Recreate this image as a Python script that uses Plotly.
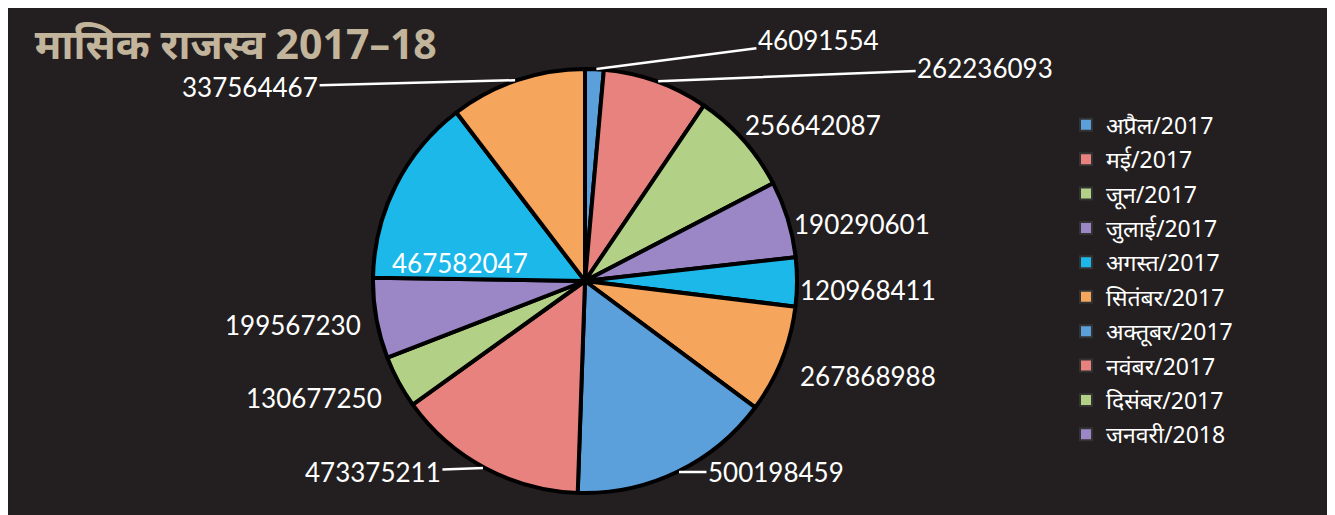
import math
import plotly.graph_objects as go

months = ["अप्रैल/2017", "मई/2017", "जून/2017", "जुलाई/2017", "अगस्त/2017", "सितंबर/2017",
          "अक्तूबर/2017", "नवंबर/2017", "दिसंबर/2017", "जनवरी/2018", "फरवरी/2018", "मार्च/2018"]
revenue = [46091554, 262236093, 256642087, 190290601, 120968411, 267868988,
           500198459, 473375211, 130677250, 199567230, 467582047, 337564467]
palette = ["#5b9fdb", "#e8827f", "#b3d186", "#9c87c6", "#1cb8ea", "#f5a55c"]
colors = [palette[i % 6] for i in range(len(revenue))]
legend_count = 10

# label placement (pixel offsets of each value label from its slice's rim point)
label_dx = [224, 329, 70, 74, 71, 86, 99, -112, -85, -83, 64, -267]
label_dy = [-29, -13, -15, 5, 8, 16, 0, 4, 16, 7, 77, 7]
label_line = [True, True, False, False, False, False, True, True, False, False, False, True]

W, H = 1335, 515
cx, cy, r = 577, 273, 212

fig = go.Figure()
fig.add_trace(go.Pie(
    labels=months, values=revenue, sort=False, direction="clockwise", rotation=0,
    marker=dict(colors=colors, line=dict(color="#000000", width=4)),
    textinfo="none",
    domain=dict(x=[(cx - r) / W, (cx + r) / W], y=[(H - cy - r) / H, (H - cy + r) / H]),
    showlegend=False, hoverinfo="label+value",
))
for i in range(legend_count):
    fig.add_trace(go.Scatter(
        x=[None], y=[None], mode="markers", name=months[i], legendgroup=str(i),
        marker=dict(symbol="square", size=17, color=colors[i],
                    line=dict(color="#333333", width=1)),
    ))

total = sum(revenue)
cum = 0.0
annotations = []
for i, v in enumerate(revenue):
    mid = (cum + v / 2) / total * 2 * math.pi
    cum += v
    px = cx + r * math.sin(mid)
    py = cy - r * math.cos(mid)
    font = dict(color="white", size=26, family="Lato, Open Sans, sans-serif")
    if label_line[i]:
        annotations.append(dict(
            x=px / W, y=1 - py / H, xref="paper", yref="paper", text=str(v),
            showarrow=True, arrowhead=0, arrowwidth=2.5, arrowcolor="white",
            ax=label_dx[i], ay=label_dy[i], font=font, standoff=2))
    else:
        annotations.append(dict(
            x=px / W, y=1 - py / H, xref="paper", yref="paper", text=str(v),
            xanchor="center", yanchor="middle",
            showarrow=False, xshift=label_dx[i], yshift=-label_dy[i], font=font))

fig.update_layout(
    width=W, height=H, paper_bgcolor="#231f20", plot_bgcolor="#231f20",
    margin=dict(l=0, r=0, t=0, b=0),
    xaxis=dict(visible=False), yaxis=dict(visible=False),
    annotations=annotations,
    title=dict(text="<b>मासिक राजस्व 2017–18</b>", x=0.02, xanchor="left", y=0.928, yanchor="middle",
               font=dict(size=41, color="#c2b59b", family="Noto Sans, sans-serif")),
    legend=dict(x=0.7925, xanchor="left", y=0.815, yanchor="top", bgcolor="rgba(0,0,0,0)",
                font=dict(color="white", size=23, family="Noto Sans, sans-serif"),
                tracegroupgap=1.5, itemsizing="constant"),
)
fig.write_html("out.html")
